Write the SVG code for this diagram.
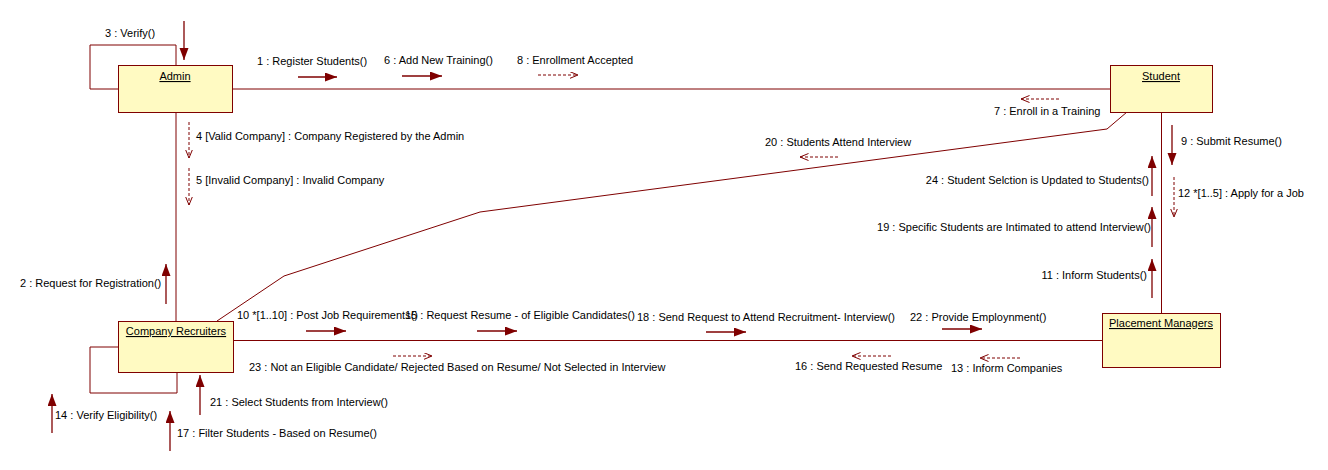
<svg xmlns="http://www.w3.org/2000/svg" width="1328" height="470" viewBox="0 0 1328 470">
  <style>
    text { font-family: "Liberation Sans", Arial, sans-serif; font-size: 11px; fill: #000; }
    .name { text-anchor: middle; text-decoration: underline; }
    .end { text-anchor: end; }
    .box { fill: #FFFAC2; stroke: #7F0000; stroke-width: 1; }
    .link { fill: none; stroke: #7F0000; stroke-width: 1; }
    .call { fill: none; stroke: #7F0000; stroke-width: 1.3; marker-end: url(#solidHead); }
    .reply { fill: none; stroke: #7F0000; stroke-width: 1; stroke-dasharray: 3 2; marker-end: url(#openHead); }
  </style>
  <defs>
    <marker id="solidHead" markerUnits="userSpaceOnUse" markerWidth="13" markerHeight="10" refX="12" refY="4.5" orient="auto">
      <path d="M0,0 L12,4.5 L0,9 Z" fill="#7F0000"/>
    </marker>
    <marker id="openHead" markerUnits="userSpaceOnUse" markerWidth="10" markerHeight="8" refX="8.5" refY="3.5" orient="auto">
      <path d="M0,0 L8.5,3.5 L0,7" fill="none" stroke="#7F0000" stroke-width="1"/>
    </marker>
  </defs>

  <rect width="1328" height="470" fill="#fff"/>

  <!-- links between objects -->
  <g id="links">
    <path class="link" d="M176,65 V45 H90 V89 H118"/>
    <line class="link" x1="232" y1="89" x2="1110" y2="89"/>
    <line class="link" x1="176" y1="112" x2="176" y2="321"/>
    <line class="link" x1="1161.5" y1="112" x2="1161.5" y2="313"/>
    <line class="link" x1="233" y1="340.5" x2="1102" y2="340.5"/>
    <path class="link" d="M1127,112 L1107,129 L480,212 L284,276 L217,321"/>
    <path class="link" d="M118,347 H90 V393 H177 V372"/>
  </g>

  <!-- message arrows -->
  <g id="messages">
    <line class="call" x1="184" y1="21" x2="184" y2="60"/>
    <line class="call" x1="298" y1="77" x2="337" y2="77"/>
    <line class="call" x1="402" y1="76" x2="442" y2="76"/>
    <line class="reply" x1="538" y1="75" x2="578" y2="75"/>
    <line class="reply" x1="1059" y1="99" x2="1021" y2="99"/>
    <line class="reply" x1="838" y1="157" x2="800" y2="157"/>
    <line class="reply" x1="189" y1="122" x2="189" y2="158"/>
    <line class="reply" x1="189" y1="168" x2="189" y2="205"/>
    <line class="call" x1="1172" y1="125" x2="1172" y2="165"/>
    <line class="reply" x1="1174" y1="177" x2="1174" y2="217"/>
    <line class="call" x1="1152" y1="196" x2="1152" y2="156"/>
    <line class="call" x1="1152" y1="247" x2="1152" y2="207"/>
    <line class="call" x1="1152" y1="298" x2="1152" y2="259"/>
    <line class="call" x1="166" y1="304" x2="166" y2="264"/>
    <line class="call" x1="306" y1="331" x2="346" y2="331"/>
    <line class="call" x1="477" y1="331" x2="517" y2="331"/>
    <line class="call" x1="706" y1="332" x2="746" y2="332"/>
    <line class="call" x1="942" y1="329" x2="982" y2="329"/>
    <line class="reply" x1="393" y1="356" x2="432" y2="356"/>
    <line class="reply" x1="891" y1="356" x2="852" y2="356"/>
    <line class="reply" x1="1020" y1="358" x2="980" y2="358"/>
    <line class="call" x1="52" y1="433" x2="52" y2="394"/>
    <line class="call" x1="170" y1="451" x2="170" y2="411"/>
    <line class="call" x1="200" y1="415" x2="200" y2="375"/>
  </g>

  <!-- message labels -->
  <g id="labels">
    <text x="105" y="37">3 : Verify()</text>
    <text x="257" y="65">1 : Register Students()</text>
    <text x="384" y="64">6 : Add New Training()</text>
    <text x="517" y="64">8 : Enrollment Accepted</text>
    <text x="994" y="115">7 : Enroll in a Training</text>
    <text x="765" y="146">20 : Students Attend Interview</text>
    <text x="196" y="140">4 [Valid Company] : Company Registered by the Admin</text>
    <text x="196" y="184">5 [Invalid Company] : Invalid Company</text>
    <text x="1181" y="145">9 : Submit Resume()</text>
    <text class="end" x="1149" y="184">24 : Student Selction is Updated to Students()</text>
    <text x="1178" y="197">12 *[1..5] : Apply for a Job</text>
    <text class="end" x="1151" y="231">19 : Specific Students are Intimated to attend Interview()</text>
    <text class="end" x="1147" y="279">11 : Inform Students()</text>
    <text x="20" y="287">2 : Request for Registration()</text>
    <text x="237" y="319">10 *[1..10] : Post Job Requirements()</text>
    <text x="405" y="319">15 : Request Resume - of Eligible Candidates()</text>
    <text x="637" y="321">18 : Send Request to Attend Recruitment- Interview()</text>
    <text x="910" y="321">22 : Provide Employnment()</text>
    <text x="249" y="371">23 : Not an Eligible Candidate/ Rejected Based on Resume/ Not Selected in Interview</text>
    <text x="795" y="370">16 : Send Requested Resume</text>
    <text x="951" y="372">13 : Inform Companies</text>
    <text x="210" y="406">21 : Select Students from Interview()</text>
    <text x="55" y="419">14 : Verify Eligibility()</text>
    <text x="177" y="437">17 : Filter Students - Based on Resume()</text>
  </g>

  <g id="admin">
    <rect class="box" x="118.5" y="65.5" width="114" height="47"/>
    <text class="name" x="175" y="80">Admin</text>
  </g>
  <g id="student">
    <rect class="box" x="1110.5" y="65.5" width="102" height="47"/>
    <text class="name" x="1161" y="80">Student</text>
  </g>
  <g id="company-recruiters">
    <rect class="box" x="118.5" y="321.5" width="115" height="51"/>
    <text class="name" x="176" y="335">Company Recruiters</text>
  </g>
  <g id="placement-managers">
    <rect class="box" x="1102.5" y="313.5" width="118" height="54"/>
    <text class="name" x="1161" y="327">Placement Managers</text>
  </g>
</svg>
